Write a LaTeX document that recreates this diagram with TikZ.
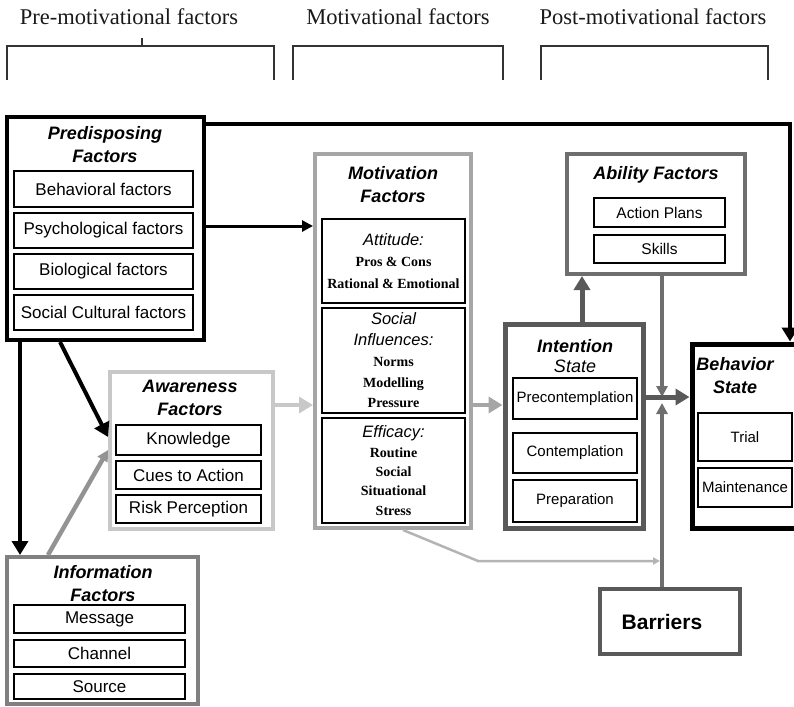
\documentclass[tikz,border=0pt]{standalone}
\usepackage{fontspec}
\setmainfont{Liberation Sans}
\newfontfamily\timesfont{Liberation Serif}
\usetikzlibrary{arrows.meta,fit}

\definecolor{motgrey}{HTML}{A6A6A6}
\definecolor{awagrey}{HTML}{C8C8C8}
\definecolor{infgrey}{HTML}{808080}
\definecolor{intgrey}{HTML}{595959}
\definecolor{ablgrey}{HTML}{6E6E6E}

\begin{document}
\begin{tikzpicture}[x=1pt,y=-1pt,
    outerbox/.style={draw, fill=white, inner sep=0pt},
    entry/.style={draw=black, fill=white, line width=1.3pt, inner sep=0pt, align=center, font=\fontsize{17}{19}\selectfont},
    boxtitle/.style={align=center, font=\fontsize{18}{23}\selectfont\bfseries\itshape},
    heading/.style={anchor=base, text=black!90, font=\timesfont\fontsize{22.5}{24}\selectfont},
    bracket/.style={draw=black!80, line width=1.2pt},
    bigtip/.style={-{Triangle[length=14pt,width=16pt]}},
    smalltip/.style={-{Triangle[length=11pt,width=11pt]}}
  ]
  \useasboundingbox (0,0) rectangle (794,706);

  \node[heading] (prehead) at (129,25) {Pre-motivational factors};
  \node[heading] (mothead) at (398,25) {Motivational factors};
  \node[heading] (posthead) at (653,25) {Post-motivational factors};
  \draw[bracket] (7,80) -- (7,46) -- (274,46) -- (274,80);
  \draw[bracket] (142,38) -- (142,46);
  \draw[bracket] (293,80) -- (293,46) -- (503,46) -- (503,80);
  \draw[bracket] (541,80) -- (541,46) -- (768,46) -- (768,80);

  % boxes
  \node[outerbox, line width=4pt, fit={(7,117) (204,340)}] (pre) {};
  \node[boxtitle] (pretitle) at (105,145) {Predisposing\\Factors};
  \node[entry, minimum width=179pt, minimum height=36pt] (behav) at (103.5,189) {Behavioral factors};
  \node[entry, minimum width=179pt, minimum height=35pt] (psych) at (103.5,230.5) {Psychological factors};
  \node[entry, minimum width=179pt, minimum height=35pt] (bio) at (103.5,271.5) {Biological factors};
  \node[entry, minimum width=179pt, minimum height=35pt] (social) at (103.5,312.5) {Social Cultural factors};

  \node[outerbox, draw=motgrey, line width=4pt, fit={(315,154) (471,528)}] (mot) {};
  \node[boxtitle] (mottitle) at (393,185) {Motivation\\Factors};
  \node[entry, minimum width=143pt, minimum height=84pt, font=\timesfont\bfseries\fontsize{14}{21.5}\selectfont] (attitude) at (393.5,261)
    {{\normalfont\itshape\fontsize{16.5}{21.5}\selectfont Attitude:}\\Pros \& Cons\\Rational \& Emotional};
  \node[entry, minimum width=143pt, minimum height=105pt, font=\timesfont\bfseries\fontsize{14}{20.7}\selectfont] (influence) at (393.5,360.5)
    {{\normalfont\itshape\fontsize{16.5}{20.7}\selectfont Social}\\{\normalfont\itshape\fontsize{16.5}{20.7}\selectfont Influences:}\\Norms\\Modelling\\Pressure};
  \node[entry, minimum width=143pt, minimum height=105pt, font=\timesfont\bfseries\fontsize{14}{19.3}\selectfont] (efficacy) at (393.5,470.5)
    {{\normalfont\itshape\fontsize{16.5}{19.3}\selectfont Efficacy:}\\Routine\\Social\\Situational\\Stress};

  \node[outerbox, draw=awagrey, line width=4pt, fit={(110,372) (273,529)}] (awa) {};
  \node[boxtitle] (awatitle) at (190,398) {Awareness\\Factors};
  \node[entry, minimum width=145pt, minimum height=30pt] (know) at (188.5,440) {Knowledge};
  \node[entry, minimum width=145pt, minimum height=28pt] (cues) at (188.5,475) {Cues to Action};
  \node[entry, minimum width=145pt, minimum height=28pt] (risk) at (188.5,509) {Risk Perception};

  \node[outerbox, draw=infgrey, line width=4pt, fit={(7,557) (198,704)}] (inf) {};
  \node[boxtitle] (inftitle) at (103,584) {Information\\Factors};
  \node[entry, minimum width=171pt, minimum height=28pt] (msg) at (99.5,619) {Message};
  \node[entry, minimum width=171pt, minimum height=27pt] (channel) at (99.5,653.5) {Channel};
  \node[entry, minimum width=171pt, minimum height=25pt] (source) at (99.5,686.5) {Source};

  \node[outerbox, draw=intgrey, line width=5pt, fit={(505,324) (643,528)}] (intn) {};
  \node[align=center, font=\fontsize{18}{20}\selectfont\itshape] (intntitle) at (575,356) {\textbf{Intention}\\State};
  \node[entry, font=\fontsize{15}{17}\selectfont, minimum width=124pt, minimum height=41pt] (precon) at (575,398.5) {Precontemplation};
  \node[entry, font=\fontsize{15}{17}\selectfont, minimum width=124pt, minimum height=40pt] (contemp) at (575,453) {Contemplation};
  \node[entry, font=\fontsize{15}{17}\selectfont, minimum width=124pt, minimum height=42pt] (prep) at (575,501) {Preparation};

  \node[outerbox, draw=ablgrey, line width=4pt, fit={(567,154) (745,274)}] (abl) {};
  \node[boxtitle] (abltitle) at (656,175) {Ability Factors};
  \node[entry, font=\fontsize{15.5}{17}\selectfont, minimum width=131pt, minimum height=29pt] (plans) at (659.5,212.5) {Action Plans};
  \node[entry, font=\fontsize{15.5}{17}\selectfont, minimum width=131pt, minimum height=28pt] (skills) at (659.5,249) {Skills};

  \node[outerbox, line width=5pt, fit={(692,344) (798,528)}] (beh) {};
  \node[boxtitle] (behtitle) at (735,376) {Behavior\\State};
  \node[entry, font=\fontsize{15}{17}\selectfont, minimum width=94pt, minimum height=48pt] (trial) at (745,437) {Trial};
  \node[entry, font=\fontsize{15}{17}\selectfont, minimum width=94pt, minimum height=39pt] (maint) at (745,487.5) {Maintenance};

  \node[outerbox, draw=intgrey, line width=4pt, font=\fontsize{21}{23}\selectfont\bfseries, minimum width=140pt, minimum height=65pt] (bar) at (670,621.5) {Barriers\hspace*{16pt}};

  % connectors
  \coordinate (crosstop) at (662,397);
  \coordinate (crossbot) at (662,403);
  \coordinate (stressbend) at (478,561);
  \coordinate (stressend) at (660,561);

  \draw[black, line width=4.5pt, bigtip] (pre.east |- 0,124) -| (beh.north -| 790,0);
  \draw[black, line width=3pt, smalltip] (pre.east |- 0,226) -- (mot.west |- 0,226);
  \draw[black, line width=4pt, bigtip] (pre.south -| 20,0) -- (inf.north -| 20,0);
  \draw[black, line width=4pt, bigtip] (pre.south -| 60,0) -- (awa.west |- 0,437);
  \draw[infgrey!85, line width=4.5pt, smalltip] (inf.north -| 48,0) -- (awa.west |- 0,450);
  \draw[awagrey, line width=4pt, bigtip] (awa.east |- 0,405) -- (mot.west |- 0,405);
  \draw[motgrey, line width=4pt, bigtip] (mot.east |- 0,405) -- (intn.west |- 0,405);
  \draw[intgrey, line width=5pt, bigtip] (intn.north -| 582,0) -- (abl.south -| 582,0);
  \draw[awagrey!90!black, line width=2.5pt, -{Triangle[length=7pt,width=7pt]}] (mot.south -| 403,0) -- (stressbend) -- (stressend);
  \draw[ablgrey, line width=3.5pt, smalltip] (abl.south -| crosstop) -- (crosstop);
  \draw[ablgrey, line width=3.5pt, smalltip] (bar.north -| crossbot) -- (crossbot);
  \draw[intgrey, line width=5pt, bigtip] (intn.east |- crosstop) -- (beh.west |- crosstop);
\end{tikzpicture}
\end{document}
